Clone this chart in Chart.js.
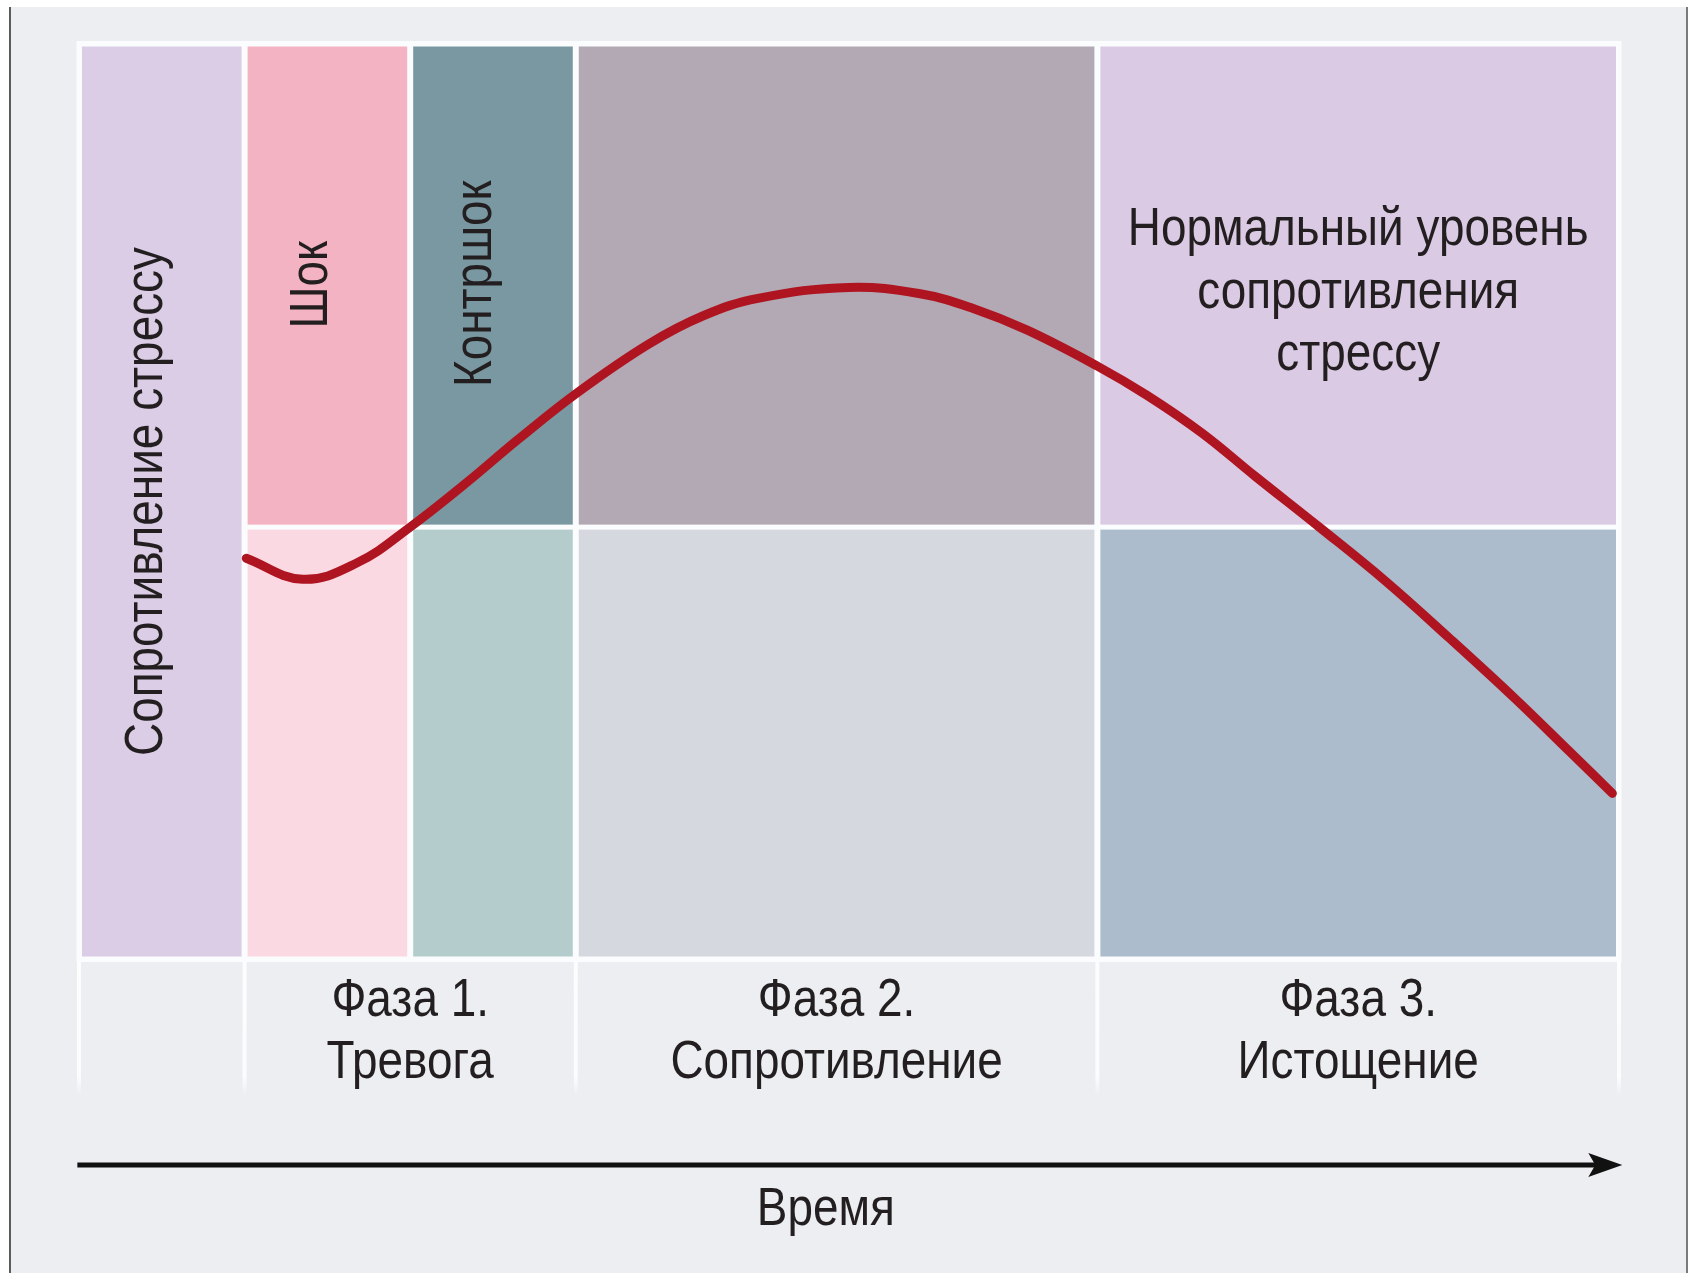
<!DOCTYPE html>
<html lang="ru">
<head>
<meta charset="utf-8">
<title>Фазы стресса</title>
<script src="https://cdn.jsdelivr.net/npm/chart.js@4.4.1/dist/chart.umd.min.js"></script>
<style>
  html, body { margin:0; padding:0; background:#fff; }
  #sheet { position:absolute; left:9px; top:7px; width:1675px; height:1266px;
           background:#eceef2; border-left:2px solid #5c5c5c; border-right:2px solid #7a7a7a; }
  #c { position:absolute; left:0; top:0; }
</style>
</head>
<body>
<div id="sheet"></div>
<canvas id="c" width="1697" height="1275"></canvas>
<script>
// временная шкала: границы столбцов (условные единицы времени)
const columnEdges = [0, 1, 2, 3, 6.15, 9.3];
const rowSplit = 4.72; // граница верхнего и нижнего ряда

// кривая сопротивления стрессу
const curveX = [1.01, 1.35, 1.68, 2.00, 2.33, 2.66, 3.01, 3.44, 3.77, 4.10, 4.65, 5.08, 5.40, 5.73, 6.15, 6.45, 6.78, 7.10, 7.49, 7.89, 8.28, 8.67, 9.00, 9.26];
const curveY = [4.38, 4.15, 4.33, 4.72, 5.19, 5.69, 6.19, 6.72, 7.03, 7.22, 7.34, 7.27, 7.11, 6.87, 6.48, 6.16, 5.75, 5.28, 4.72, 4.13, 3.50, 2.85, 2.27, 1.81];

const phaseLines = [["Фаза 1.", "Тревога"], ["Фаза 2.", "Сопротивление"], ["Фаза 3.", "Истощение"]];
const phaseSpans = [[1, 3], [3, 4], [4, 5]]; // индексы границ
const normLines = ["Нормальный уровень", "сопротивления", "стрессу"];

// цвета
const upperColors = ["#dbcde6", "#f4b3c2", "#7a98a1", "#b2a9b4", "#dbcae4"];
const lowerColors = ["#dbcde6", "#fbd9e2", "#b4cdcc", "#d5d8de", "#acbccc"];
const textColor = "#231f20";
const FONT = "54px 'Liberation Sans', Arial, sans-serif";
const SQUEEZE = 0.85;

function txt(ctx, s, px, py, rot){
  ctx.save();
  ctx.translate(px, py);
  if(rot) ctx.rotate(-Math.PI/2);
  ctx.scale(SQUEEZE, 1);
  ctx.fillText(s, 0, 0);
  ctx.restore();
}

const diagram = {
  id: "diagram",
  beforeDatasetsDraw(chart){
    const {ctx, scales:{x, y}} = chart;
    const X = v => x.getPixelForValue(v), Y = v => y.getPixelForValue(v);
    const last = columnEdges.length - 1;
    ctx.save();
    // белая рамка
    ctx.fillStyle = "#fbfcfd";
    ctx.fillRect(X(0)-2.5, Y(10)-3, X(columnEdges[last])-X(0)+5, Y(0)-Y(10)+6);
    // ячейки
    const g = 3;
    for(let i=0;i<last;i++){
      const l = X(columnEdges[i])+g, r = X(columnEdges[i+1])-g;
      if(i===0){
        ctx.fillStyle = upperColors[0];
        ctx.fillRect(l, Y(10)+2.5, r-l, Y(0)-Y(10)-5);
        continue;
      }
      ctx.fillStyle = upperColors[i];
      ctx.fillRect(l, Y(10)+2.5, r-l, Y(rowSplit)-Y(10)-5);
      ctx.fillStyle = lowerColors[i];
      ctx.fillRect(l, Y(rowSplit)+2.5, r-l, Y(0)-Y(rowSplit)-5);
    }
    // белые разделители под графиком
    [0, 1, 3, 4, 5].forEach(k=>{
      const px = X(columnEdges[k]);
      const t = Y(0)+3, b = Y(-1.5);
      const grd = ctx.createLinearGradient(0, t, 0, b);
      grd.addColorStop(0, "#fdfdfe"); grd.addColorStop(0.85, "#fbfcfd"); grd.addColorStop(1, "rgba(251,252,253,0)");
      ctx.fillStyle = grd;
      ctx.fillRect(px-2, t, 4, b-t);
    });
    // подписи
    ctx.fillStyle = textColor;
    ctx.font = FONT;
    ctx.textAlign = "center";
    ctx.textBaseline = "alphabetic";
    txt(ctx, "Сопротивление стрессу", X(0.50), Y(5.0), true);
    txt(ctx, "Шок", X(1.50), Y(7.37), true);
    txt(ctx, "Контршок", X(2.49), Y(7.38), true);
    const nx = X((columnEdges[4]+columnEdges[5])/2);
    normLines.forEach((s, i)=> txt(ctx, s, nx, Y(7.80 - i*0.68)));
    phaseLines.forEach((lines, i)=>{
      const [a, b] = phaseSpans[i];
      const cx = X((columnEdges[a]+columnEdges[b])/2);
      txt(ctx, lines[0], cx, Y(-0.62));
      txt(ctx, lines[1], cx, Y(-1.30));
    });
    // ось времени
    const ay = Y(-2.25), ax0 = X(-0.01), ax1 = X(9.32);
    ctx.strokeStyle = "#111"; ctx.lineWidth = 5;
    ctx.beginPath(); ctx.moveTo(ax0, ay); ctx.lineTo(ax1-20, ay); ctx.stroke();
    ctx.fillStyle = "#111";
    ctx.beginPath();
    ctx.moveTo(ax1, ay); ctx.lineTo(ax1-34, ay-12); ctx.lineTo(ax1-27, ay);
    ctx.lineTo(ax1-34, ay+12); ctx.closePath(); ctx.fill();
    ctx.fillStyle = textColor;
    txt(ctx, "Время", X(4.51), Y(-2.91));
    ctx.restore();
  }
};

new Chart(document.getElementById("c"), {
  type: "line",
  data: {
    datasets: [{
      data: curveX.map((v, i)=>({x: v, y: curveY[i]})),
      borderColor: "#af1520",
      borderWidth: 9,
      borderCapStyle: "round",
      borderJoinStyle: "round",
      pointRadius: 0,
      fill: false,
      clip: false,
      tension: 0.4
    }]
  },
  options: {
    responsive: false,
    devicePixelRatio: 1,
    animation: false,
    layout: { padding: { left: 79, right: 78, top: 44, bottom: 316 } },
    scales: {
      x: { type: "linear", min: 0, max: 9.3, display: false },
      y: { type: "linear", min: 0, max: 10, display: false }
    },
    plugins: { legend: { display: false }, tooltip: { enabled: false } },
    events: []
  },
  plugins: [diagram]
});
</script>
</body>
</html>
